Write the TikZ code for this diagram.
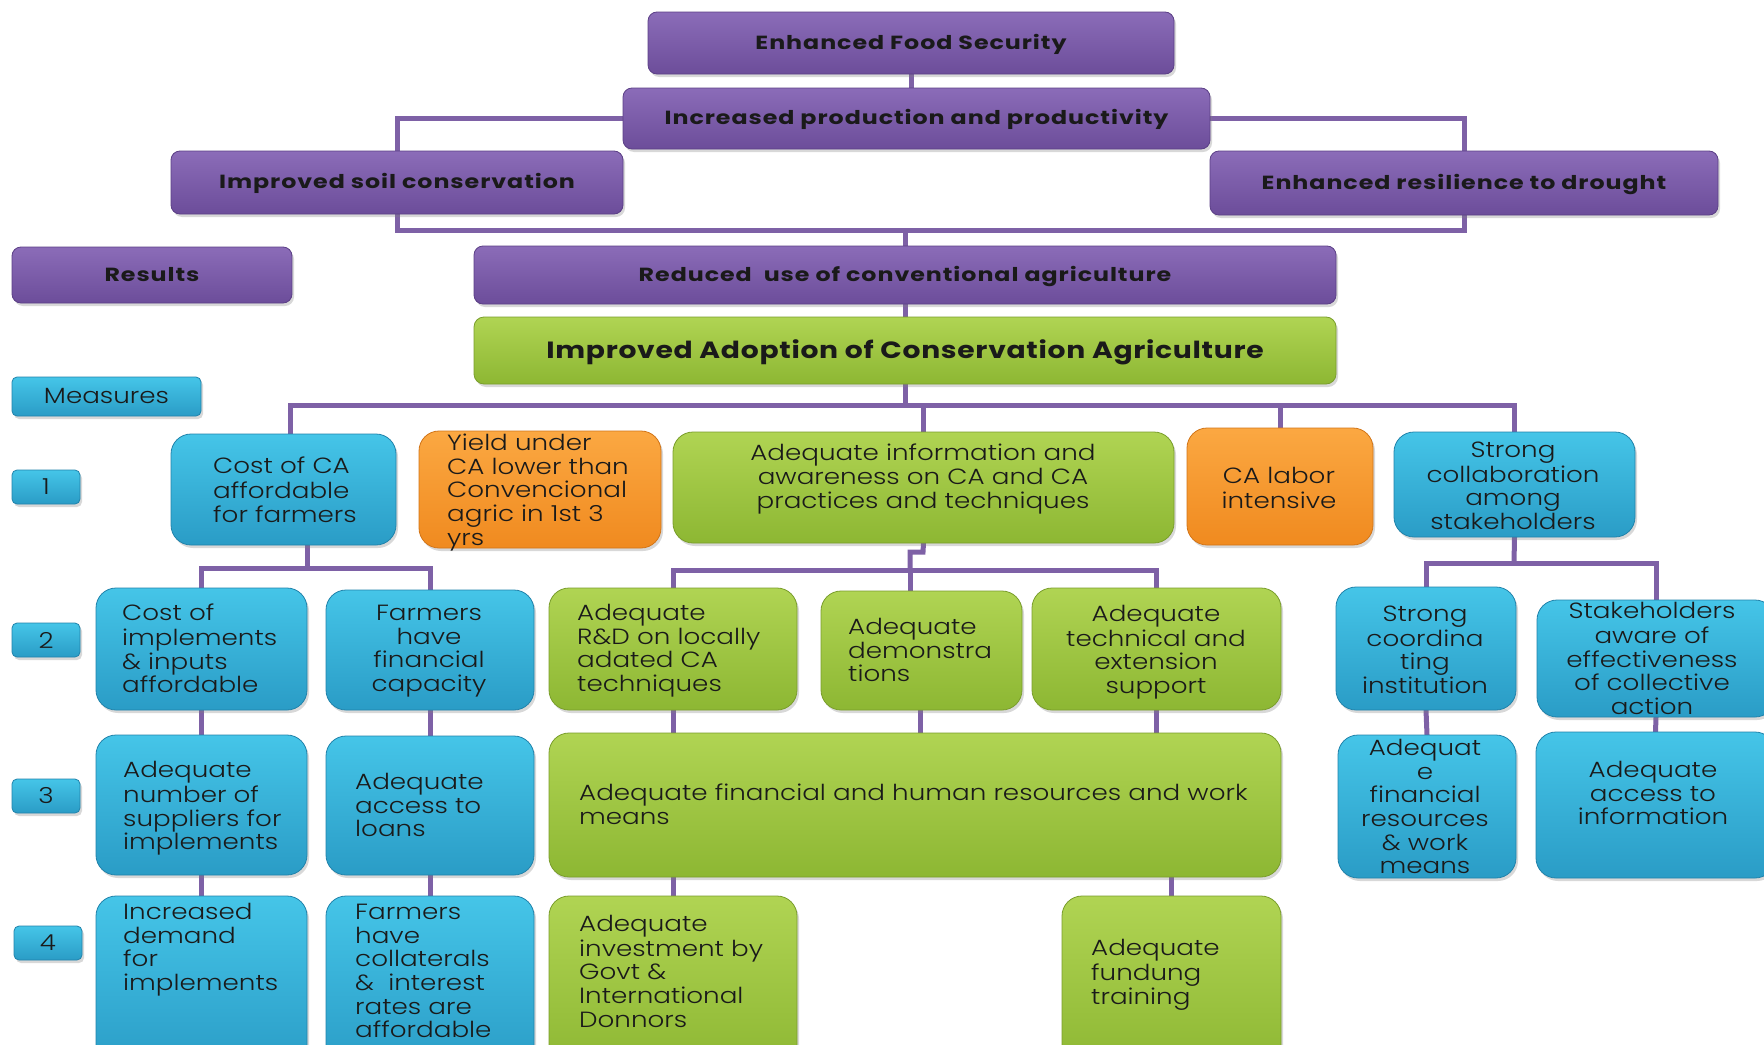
\documentclass[tikz,border=0pt]{standalone}
\usepackage{fontspec}
\setmainfont{Poppins}[UprightFont={* Light},BoldFont={* Bold},FakeStretch=1.19]
\newfontfamily\ttlfont{Poppins}[FakeStretch=1.25,LetterSpace=5]
\newfontfamily\bigfont{Poppins}[FakeStretch=1.2,LetterSpace=3]
\usetikzlibrary{shadows,backgrounds}
\definecolor{pTop}{HTML}{8B6CB8}
\definecolor{pBot}{HTML}{6C4D9A}
\definecolor{pDraw}{HTML}{5B3F86}
\definecolor{gTop}{HTML}{B0D453}
\definecolor{gBot}{HTML}{8DB733}
\definecolor{gDraw}{HTML}{7A9E2C}
\definecolor{cTop}{HTML}{45C5E8}
\definecolor{cBot}{HTML}{2A9CC6}
\definecolor{cDraw}{HTML}{2183AB}
\definecolor{oTop}{HTML}{FBA842}
\definecolor{oBot}{HTML}{F08A1F}
\definecolor{oDraw}{HTML}{D27518}
\definecolor{linkc}{HTML}{7E61A6}
\definecolor{txtc}{HTML}{1A1A1A}
\newcommand\myBody{\fontsize{22}{23.6}\selectfont}
\newcommand\myTitle{\ttlfont\fontsize{19}{21}\selectfont\bfseries}
\newcommand\myBig{\bigfont\fontsize{23.5}{25}\selectfont\bfseries}
\begin{document}
\begin{tikzpicture}[x=1pt,y=-1pt,
  bx/.style={draw=#1, line width=0.8pt, inner sep=0pt, outer sep=0pt, anchor=north west, text=txtc,
    drop shadow={shadow xshift=2pt,shadow yshift=-3pt,opacity=0.3}},
  pbox/.style={bx=pDraw, rounded corners=9pt, top color=pTop, bottom color=pBot, font=\myTitle,
    text height=16pt, text depth=4pt},
  gbox/.style={bx=gDraw, rounded corners=20pt, top color=gTop, bottom color=gBot},
  cbox/.style={bx=cDraw, rounded corners=20pt, top color=cTop, bottom color=cBot},
  obox/.style={bx=oDraw, rounded corners=20pt, top color=oTop, bottom color=oBot},
  nbox/.style={bx=cDraw, rounded corners=5pt, top color=cTop, bottom color=cBot, font=\myBody},
  lt/.style={inner sep=0pt, font=\myBody, text=txtc, align=left, anchor=north west},
  ct/.style={inner sep=0pt, font=\myBody, text=txtc, align=center, anchor=north},
  link/.style={draw=linkc, line width=5pt}]
\useasboundingbox (0,0) rectangle (1764,1044);
\clip (0,0) rectangle (1764,1044);

% ---- purple results ----
\node[pbox, minimum width=526pt, minimum height=62pt] (efs) at (648,12) {Enhanced Food Security};
\node[pbox, minimum width=587pt, minimum height=61pt] (ipp) at (623,88) {Increased production and productivity};
\node[pbox, minimum width=452pt, minimum height=63pt] (isc) at (171,151) {Improved soil conservation};
\node[pbox, minimum width=508pt, minimum height=64pt] (erd) at (1210,151) {Enhanced resilience to drought};
\node[pbox, minimum width=280pt, minimum height=56pt] (res) at (12,247) {Results};
\node[pbox, minimum width=862pt, minimum height=58pt] (red) at (474,246) {Reduced\ \ use of conventional agriculture};
\node[gbox, rounded corners=10pt, minimum width=862pt, minimum height=67pt, font=\myBig,
  text height=19pt, text depth=4pt] (ado) at (474,317) {Improved Adoption of Conservation Agriculture};

% ---- labels ----
\node[nbox, minimum width=189pt, minimum height=39pt] (mea) at (12,377) {Measures};
\node[nbox, minimum width=68pt, minimum height=34pt] (n1) at (12,470) {1};
\node[nbox, minimum width=68pt, minimum height=34pt] (n2) at (12,623) {2};
\node[nbox, minimum width=68pt, minimum height=34pt] (n3) at (12,779) {3};
\node[nbox, minimum width=68pt, minimum height=34pt] (n4) at (14,926) {4};

% ---- level 1 ----
\node[cbox, minimum width=225pt, minimum height=111pt] (c1) at (171,434) {};
\node[obox, minimum width=242pt, minimum height=117pt] (y1) at (419,431) {};
\node[gbox, minimum width=501pt, minimum height=111pt] (i1) at (673,432) {};
\node[obox, minimum width=186pt, minimum height=117pt] (l1) at (1187,428) {};
\node[cbox, minimum width=241pt, minimum height=105pt] (s1) at (1394,432) {};

% ---- level 2 ----
\node[cbox, minimum width=211pt, minimum height=122pt] (c2a) at (96,588) {};
\node[cbox, minimum width=208pt, minimum height=120pt] (c2b) at (326,590) {};
\node[gbox, minimum width=248pt, minimum height=122pt] (r2) at (549,588) {};
\node[gbox, minimum width=201pt, minimum height=119pt] (d2) at (821,591) {};
\node[gbox, minimum width=249pt, minimum height=122pt] (t2) at (1032,588) {};
\node[cbox, minimum width=180pt, minimum height=123pt] (k2) at (1336,587) {};
\node[cbox, minimum width=238pt, minimum height=117pt] (a2) at (1537,600) {};

% ---- level 3 ----
\node[cbox, minimum width=211pt, minimum height=140pt] (c3a) at (96,735) {};
\node[cbox, minimum width=208pt, minimum height=139pt] (c3b) at (326,736) {};
\node[gbox, minimum width=732pt, minimum height=144pt] (fh) at (549,733) {};
\node[cbox, minimum width=178pt, minimum height=143pt] (k3) at (1338,735) {};
\node[cbox, minimum width=239pt, minimum height=146pt] (a3) at (1536,732) {};

% ---- level 4 ----
\node[cbox, minimum width=211pt, minimum height=174pt] (c4a) at (96,896) {};
\node[cbox, minimum width=208pt, minimum height=174pt] (c4b) at (326,896) {};
\node[gbox, minimum width=248pt, minimum height=174pt] (v4) at (549,896) {};
\node[gbox, minimum width=219pt, minimum height=174pt] (f4) at (1062,896) {};

% ---- texts ----
\node[lt] (c1t) at (213,457) {\strut Cost of CA\\affordable\\for farmers};
\node[lt] (y1t) at (447,434) {\strut Yield under\\CA lower than\\Convencional\\agric in 1st 3\\yrs};
\node[ct] (i1t) at (923,444) {\strut Adequate information and\\awareness on CA and CA\\practices and techniques};
\node[ct] (l1t) at (1279,467) {\strut CA labor\\intensive};
\node[ct] (s1t) at (1513,441) {\strut Strong\\collaboration\\among\\stakeholders};
\node[lt] (c2at) at (122,604) {\strut Cost of\\implements\\\& inputs\\affordable};
\node[ct] (c2bt) at (429,604) {\strut Farmers\\have\\financial\\capacity};
\node[lt] (r2t) at (577,604) {\strut Adequate\\R\&D on locally\\adated CA\\techniques};
\node[lt] (d2t) at (848,618) {\strut Adequate\\demonstra\\tions};
\node[ct] (t2t) at (1156,605) {\strut Adequate\\technical and\\extension\\support};
\node[ct] (k2t) at (1425,605) {\strut Strong\\coordina\\ting\\institution};
\node[ct] (a2t) at (1652,602) {\strut Stakeholders\\aware of\\effectiveness\\of collective\\action};
\node[lt] (c3at) at (123,761) {\strut Adequate\\number of\\suppliers for\\implements};
\node[lt] (c3bt) at (355,773) {\strut Adequate\\access to\\loans};
\node[lt] (fht) at (579,784) {\strut Adequate financial and human resources and work\\means};
\node[ct] (k3t) at (1425,739) {\strut Adequat\\e\\financial\\resources\\\& work\\means};
\node[ct] (a3t) at (1653,761) {\strut Adequate\\access to\\information};
\node[lt] (c4at) at (123,903) {\strut Increased\\demand\\for\\implements};
\node[lt] (c4bt) at (355,903) {\strut Farmers\\have\\collaterals\\\&\ \ interest\\rates are\\affordable};
\node[lt] (v4t) at (579,915) {\strut Adequate\\investment by\\Govt \&\\International\\Donnors};
\node[lt] (f4t) at (1091,939) {\strut Adequate\\fundung\\training};

% ---- junctions ----
\coordinate (jA) at (905,230);
\coordinate (jB) at (905,405);
\coordinate (jB0) at (290,405);
\coordinate (jC) at (307,568);
\coordinate (jD1) at (923,552);
\coordinate (jD2) at (910,552);
\coordinate (jD3) at (910,570);
\coordinate (jE) at (1514,563);
\coordinate (jF) at (920,710);

\begin{scope}[on background layer]
\fill[white] (0,0) rectangle (1764,1044);
\draw[link] (efs.south) -- (efs.south |- ipp.north);
\draw[link] (ipp.west) -| (isc.north);
\draw[link] (ipp.east) -| (erd.north);
\draw[link] (isc.south) |- (jA) -| (erd.south);
\draw[link] (jA) -- (red.north);
\draw[link] (red.south) -- (ado.north);
\draw[link] (ado.south) -- (jB);
\draw[link] (jB0 |- c1.north) -- (jB0) -- (jB) -| (s1.north);
\draw[link] (i1.north) -- (i1.north |- jB);
\draw[link] (l1.north) -- (l1.north |- jB);
% level 1 -> 2
\draw[link] (jC |- c1.south) -- (jC);
\draw[link] (c2a.north) |- (jC) -| (c2b.north);
\draw[link] (i1.south) -- (jD1) -- (jD2) -- (jD3);
\draw[link] (r2.north) |- (jD3) -| (t2.north);
\draw[link] (jD3) -- (jD3 |- d2.north);
\draw[link] (s1.south) -- (jE);
\draw[link] (k2.north) |- (jE) -| (a2.north);
% level 2 -> 3
\draw[link] (c2a.south) -- (c3a.north);
\draw[link] (c2b.south) -- (c3b.north);
\draw[link] (r2.south) -- (r2.south |- fh.north);
\draw[link] (jF) -- (jF |- fh.north);
\draw[link] (t2.south) -- (t2.south |- fh.north);
\draw[link] (k2.south) -- (k3.north);
\draw[link] (a2.south) -- (a3.north);
% level 3 -> 4
\draw[link] (c3a.south) -- (c4a.north);
\draw[link] (c3b.south) -- (c4b.north);
\draw[link] (v4.north |- fh.south) -- (v4.north);
\draw[link] (f4.north |- fh.south) -- (f4.north);
\end{scope}
\end{tikzpicture}
\end{document}
